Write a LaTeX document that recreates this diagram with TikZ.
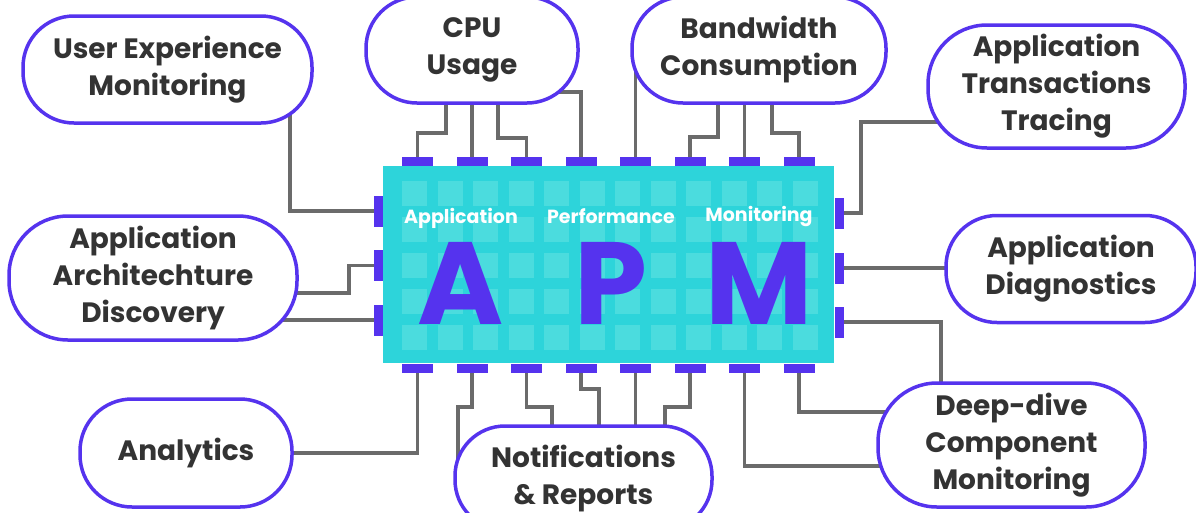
\documentclass[tikz,border=0pt]{standalone}
\usepackage{fontspec}
\setmainfont{Poppins}
\usepackage{tikz}
\usetikzlibrary{backgrounds}
\definecolor{chipcyan}{HTML}{2DD4DA}
\definecolor{chipcell}{HTML}{4BDCDE}
\definecolor{apmpurple}{HTML}{5533EE}
\definecolor{wiregray}{HTML}{6B6B6B}
\definecolor{labelgray}{HTML}{333333}

\begin{document}
\begin{tikzpicture}[x=1pt,y=-1pt,
  pill/.style={draw=apmpurple, line width=3.5pt, fill=white, inner sep=0pt, align=center,
    text=labelgray, font=\fontsize{28}{37}\selectfont\bfseries},
  toppin/.style={fill=apmpurple, minimum width=31pt, minimum height=9pt, inner sep=0pt},
  sidepin/.style={fill=apmpurple, minimum width=9pt, minimum height=31pt, inner sep=0pt},
  wire/.style={draw=wiregray, line width=3.6pt},
  chiptitle/.style={text=white, anchor=base, font=\fontsize{19}{19}\selectfont\bfseries},
  bigletter/.style={text=apmpurple, anchor=base, font=\fontsize{117}{117}\selectfont\bfseries}]
\clip (0,0) rectangle (1196,512);

% the chip
\node[fill=chipcyan, minimum width=451pt, minimum height=197pt, inner sep=0pt] (apm) at (608.5,264.5) {};
\foreach \c in {0,...,11}
  \foreach \r in {0,...,4}
    \fill[chipcell] (402+35.5*\c,181+36*\r) rectangle ++(25,25);
\foreach \i in {1,...,8} {
  \node[toppin] (pt\i) at (417.5+54.5*\i-54.5,161.5) {};
  \node[toppin] (pb\i) at (417.5+54.5*\i-54.5,368.5) {};
}
\node[sidepin] (pl1) at (378.5,211) {};
\node[sidepin] (pl2) at (378.5,265.5) {};
\node[sidepin] (pl3) at (378.5,320) {};
\node[sidepin] (pr1) at (839,213) {};
\node[sidepin] (pr2) at (839,268) {};
\node[sidepin] (pr3) at (839,322) {};

\node[chiptitle] at (461,223) {Application};
\node[chiptitle] at (611,223) {Performance};
\node[chiptitle] at (759,221) {Monitoring};
\node[bigletter] at (461,324) {A};
\node[bigletter] at (611,324) {P};
\node[bigletter] at (759.5,324) {M};

% the labels
\node[pill, minimum width=289pt, minimum height=107pt, rounded corners=51pt] (ux) at (167.5,69.5) {User Experience\\Monitoring};
\node[pill, minimum width=212pt, minimum height=106pt, rounded corners=51pt] (cpu) at (472,50) {CPU\\Usage};
\node[pill, minimum width=254pt, minimum height=106pt, rounded corners=51pt] (bw) at (759,50) {Bandwidth\\Consumption};
\node[pill, minimum width=257pt, minimum height=123pt, rounded corners=59pt] (att) at (1056.5,86.5) {Application\\Transactions\\Tracing};
\node[pill, minimum width=288pt, minimum height=124pt, rounded corners=59pt] (aad) at (153,278) {Application\\Architechture\\Discovery};
\node[pill, minimum width=212pt, minimum height=108pt, rounded corners=52pt] (ana) at (186,453) {Analytics};
\node[pill, minimum width=250pt, minimum height=107pt, rounded corners=51pt] (diag) at (1071,269) {Application\\Diagnostics};
\node[pill, minimum width=267pt, minimum height=124pt, rounded corners=59pt] (deep) at (1011.5,445) {Deep-dive\\Component\\Monitoring};
\node[pill, minimum width=257pt, minimum height=104pt, rounded corners=50pt] (notif) at (583.5,478) {Notifications\\\& Reports};

% traces
\begin{scope}[on background layer]
\draw[wire] (pl1.center) -| (ux.center -| 290,0);
\draw[wire] (pl2.center) -| (349,293) -- (aad.center |- 349,293);
\draw[wire] (pl3.center) -- (pl3.center -| aad.center);
\draw[wire] (pb1.center) |- (ana.center);
\draw[wire] (pt1.center) |- (446,133) -- (446,0 |- cpu.center);
\draw[wire] (pt2.center) -- (pt2.center |- cpu.center);
\draw[wire] (pt3.center) |- (498,138) -- (498,0 |- cpu.center);
\draw[wire] (pt4.center) |- (cpu.center |- 0,92);
\draw[wire] (pt5.center) -- (pt5.center |- bw.center);
\draw[wire] (pt6.center) |- (718,137) -- (718,0 |- bw.center);
\draw[wire] (pt7.center) -- (pt7.center |- bw.center);
\draw[wire] (pt8.center) |- (772,133) -- (772,0 |- bw.center);
\draw[wire] (pr1.center) -| (861,122) -- (att.center |- 861,122);
\draw[wire] (pr2.center) -- (pr2.center -| diag.center);
\draw[wire] (pr3.center) -| (941,0 |- deep.center);
\draw[wire] (pb2.center) |- (458,407) -- (458,0 |- notif.center);
\draw[wire] (pb3.center) |- (552,407) -- (552,0 |- notif.center);
\draw[wire] (pb4.center) |- (599,389) -- (599,0 |- notif.center);
\draw[wire] (pb5.center) -- (pb5.center |- notif.center);
\draw[wire] (pb6.center) |- (665,407) -- (665,0 |- notif.center);
\draw[wire] (pb7.center) |- (deep.center |- 0,466);
\draw[wire] (pb8.center) |- (deep.center |- 0,412);
\end{scope}
\end{tikzpicture}
\end{document}
